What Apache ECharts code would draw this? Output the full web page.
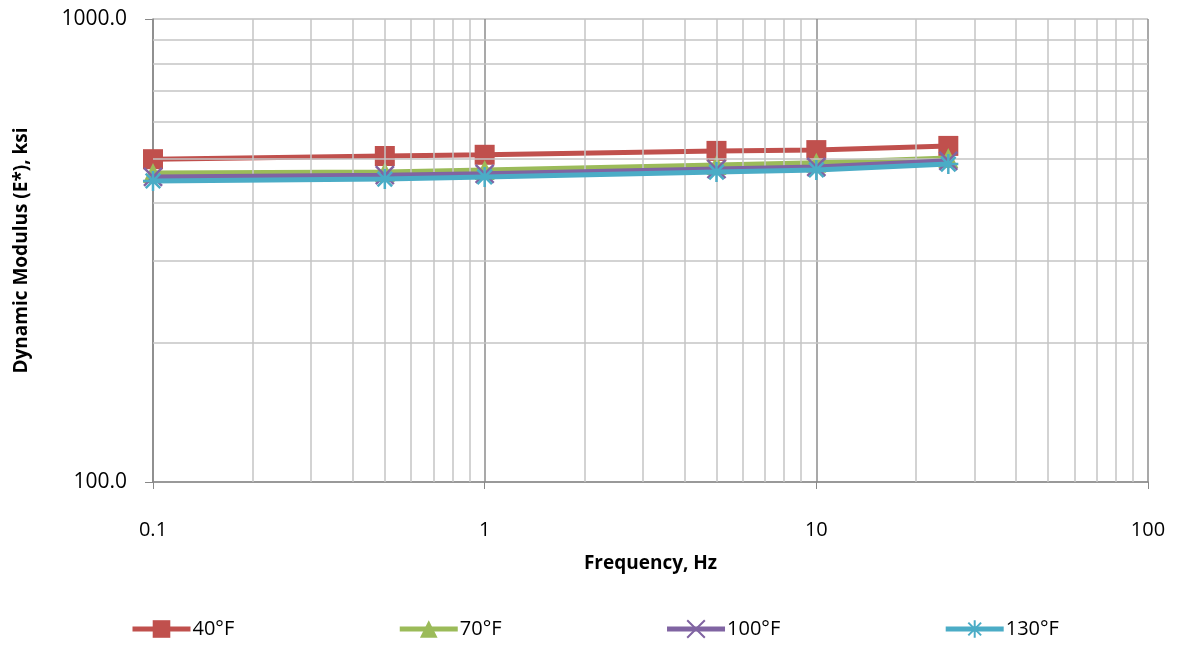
<!DOCTYPE html>
<html>
<head>
<meta charset="utf-8">
<script src="https://cdn.jsdelivr.net/npm/echarts@6/dist/echarts.min.js"></script>
<style>
  html, body { margin: 0; padding: 0; background: #fff; }
  #main { width: 1178px; height: 645px; }
</style>
</head>
<body>
<div id="main"></div>
<script>
// frequencies (Hz) and dynamic modulus (ksi)
var freqs = [0.1, 0.5, 1, 5, 10, 25];
var e40 = [498, 506, 509, 519, 521, 532];
var e70 = [465, 467, 472, 484, 489, 501];
var e100 = [456, 460, 463, 474, 479, 494];
var e130 = [447, 451, 456, 467, 472, 486];
var seriesNames = ['40°F', '70°F', '100°F', '130°F'];
var colors = ['#C0504D', '#9BBB59', '#8064A2', '#4BACC6'];
// minor log grid positions
var xMinor = [0.2, 0.3, 0.4, 0.5, 0.6, 0.7, 0.8, 0.9, 2, 3, 4, 5, 6, 7, 8, 9, 20, 30, 40, 50, 60, 70, 80, 90];
var yMinor = [200, 300, 400, 500, 600, 700, 800, 900];

var chart = echarts.init(document.getElementById('main'));

function pairs(vals) {
  return freqs.map(function (f, i) { return [f, vals[i]]; });
}

var font = 'Open Sans, Liberation Sans, sans-serif';
var xSym = 'path://M-10,-10L10,10M-10,10L10,-10';
var starSym = 'path://M0,-11L0,11M-11,0L11,0M-8,-8L8,8M-8,8L8,-8';

var minorLines = [];
xMinor.forEach(function (v) { minorLines.push({ xAxis: v }); });
yMinor.forEach(function (v) { minorLines.push({ yAxis: v }); });

function dataSeries(i, vals, symbol, size, stroke) {
  var s = {
    name: seriesNames[i], type: 'line', data: pairs(vals),
    symbol: symbol, symbolSize: size,
    itemStyle: { color: colors[i] },
    lineStyle: { color: colors[i], width: 5 },
    z: 3 + i
  };
  if (stroke) {
    s.itemStyle.borderColor = colors[i];
    s.itemStyle.borderWidth = 2.5;
  }
  return s;
}

var option = {
  animation: false,
  textStyle: { fontFamily: font },
  grid: { left: 153, right: 30, top: 19, bottom: 163, containLabel: false, outerBoundsMode: 'none' },
  legend: {
    bottom: 1,
    left: 125,
    itemGap: 163,
    itemWidth: 58,
    itemHeight: 22,
    lineStyle: { width: 5 },
    textStyle: { fontSize: 20, color: '#000', fontFamily: font, padding: [0, 0, 0, -3] },
    data: seriesNames
  },
  xAxis: {
    type: 'log',
    logBase: 10,
    min: 0.1,
    max: 100,
    name: 'Frequency, Hz',
    nameLocation: 'middle',
    nameGap: 72,
    nameTextStyle: { fontSize: 19, fontWeight: 'bold', color: '#000' },
    axisLine: { show: true, lineStyle: { color: '#888', width: 1.5 } },
    axisTick: { show: true, length: 7, lineStyle: { color: '#888' } },
    axisLabel: {
      fontSize: 20, color: '#000', margin: 38,
      formatter: function (v) { return String(+v.toPrecision(6)); }
    },
    splitLine: { show: true, lineStyle: { color: '#8c8c8c', width: 1.5 } }
  },
  yAxis: {
    type: 'log',
    logBase: 10,
    min: 100,
    max: 1000,
    name: 'Dynamic Modulus (E*), ksi',
    nameLocation: 'middle',
    nameGap: 122,
    nameTextStyle: { fontSize: 19, fontWeight: 'bold', color: '#000' },
    axisLine: { show: true, lineStyle: { color: '#888', width: 1.5 } },
    axisTick: { show: true, length: 8, lineStyle: { color: '#888' } },
    axisLabel: {
      fontSize: 21, color: '#000', margin: 26,
      formatter: function (v) { return Number(v).toFixed(1); }
    },
    splitLine: { show: true, lineStyle: { color: '#bfbfbf', width: 1.5 } }
  },
  series: [
    {
      name: 'minor-grid',
      type: 'line',
      data: [],
      silent: true,
      z: 1,
      markLine: {
        silent: true,
        symbol: 'none',
        label: { show: false },
        lineStyle: { color: '#c4c4c4', width: 1.5, type: 'solid' },
        data: minorLines
      }
    },
    dataSeries(0, e40, 'rect', 20, false),
    dataSeries(1, e70, 'triangle', 20, false),
    dataSeries(2, e100, xSym, 18, true),
    dataSeries(3, e130, starSym, 20, true)
  ]
};

chart.setOption(option);
</script>
</body>
</html>
